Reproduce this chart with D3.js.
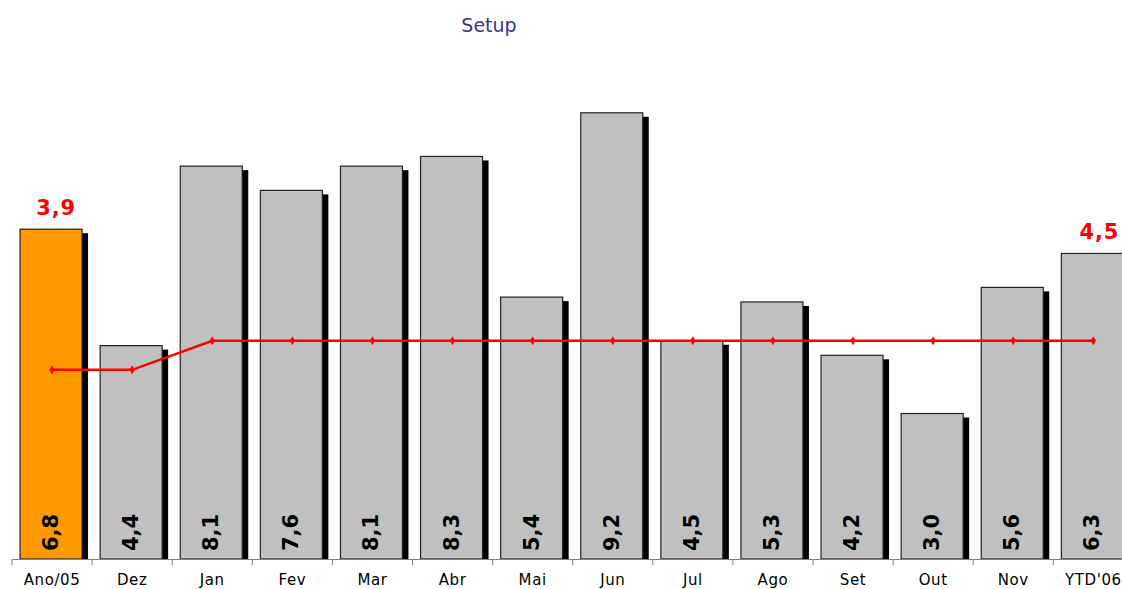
<!DOCTYPE html>
<html>
<head>
<meta charset="utf-8">
<script src="https://cdn.jsdelivr.net/npm/d3@7"></script>
<style>
  body { margin: 0; background: #fff; }
  svg { display: block; }
</style>
</head>
<body>
<div id="chart"></div>
<script>
// chart data
const categories = ["Ano/05", "Dez", "Jan", "Fev", "Mar", "Abr", "Mai", "Jun", "Jul", "Ago", "Set", "Out", "Nov", "YTD'06"]
const actual = [6.8, 4.4, 8.1, 7.6, 8.1, 8.3, 5.4, 9.2, 4.5, 5.3, 4.2, 3.0, 5.6, 6.3]
const target = [3.9, 3.9, 4.5, 4.5, 4.5, 4.5, 4.5, 4.5, 4.5, 4.5, 4.5, 4.5, 4.5, 4.5]

const W = 1122, H = 589
const font = "Verdana, 'DejaVu Sans', sans-serif"
const fmt = v => d3.format(".1f")(v).replace(".", ",")

let svg = d3.select("#chart").append("svg")
    .attr("width", W).attr("height", H)

// x scale runs a little past the right edge, like the original
let scX = d3.scaleBand().domain(categories).range([12, 12 + 80.1 * categories.length])
let scY = d3.scaleLinear().domain([0, 10]).range([559, 74])

svg.append("text")
    .attr("x", 489).attr("y", 32)
    .attr("text-anchor", "middle")
    .attr("font-family", font)
    .attr("font-size", 19)
    .attr("fill", "#333399")
    .text("Setup")

let bw = 62
let cx = d => scX(d) + scX.bandwidth() / 2

// shadows
svg.append("g").selectAll("rect")
    .data(actual)
    .enter().append("rect")
    .attr("x", (d, i) => cx(categories[i]) - bw / 2 - 1 + 6)
    .attr("y", d => scY(d) + 4)
    .attr("width", bw)
    .attr("height", d => scY(0) - scY(d) - 4)
    .attr("fill", "#000")

// bars
svg.append("g").selectAll("rect")
    .data(actual)
    .enter().append("rect")
    .attr("x", (d, i) => cx(categories[i]) - bw / 2 - 1)
    .attr("y", d => scY(d))
    .attr("width", bw)
    .attr("height", d => scY(0) - scY(d))
    .attr("fill", (d, i) => i === 0 ? "#ff9900" : "#c0c0c0")
    .attr("stroke", "#222")
    .attr("stroke-width", 1.2)

// value labels inside bars
svg.append("g").selectAll("text")
    .data(actual)
    .enter().append("text")
    .attr("transform", (d, i) => `translate(${cx(categories[i]) + 6}, 551) rotate(-90)`)
    .attr("font-family", font)
    .attr("font-weight", "bold")
    .attr("font-size", 21)
    .attr("fill", "#000")
    .text(d => fmt(d))

// x axis
let axis = d3.axisBottom(scX).tickSize(0).tickPadding(0)
let gx = svg.append("g").attr("transform", "translate(0, 559)").call(axis)
gx.select(".domain").attr("stroke", "#808080").attr("stroke-width", 1.2)
gx.selectAll("text")
    .attr("y", 26)
    .attr("dy", 0)
    .attr("font-family", font)
    .attr("font-size", 15)
    .attr("letter-spacing", 0.6)
    .attr("fill", "#000")
// tick marks between categories
gx.selectAll(".sep")
    .data(categories)
    .enter().append("line")
    .attr("class", "sep")
    .attr("x1", d => scX(d)).attr("x2", d => scX(d))
    .attr("y1", 0).attr("y2", 6)
    .attr("stroke", "#808080")

// target line
let makeLine = d3.line()
    .x((d, i) => cx(categories[i]))
    .y(d => scY(d))
svg.append("path")
    .attr("d", makeLine(target))
    .attr("fill", "none")
    .attr("stroke", "#ff0000")
    .attr("stroke-width", 2.5)

svg.append("g").selectAll("path")
    .data(target)
    .enter().append("path")
    .attr("d", d3.symbol(d3.symbolDiamond, 24))
    .attr("transform", (d, i) => `translate(${cx(categories[i])}, ${scY(d)})`)
    .attr("fill", "#ff0000")

// red target labels at both ends
let ends = [0, target.length - 1]
svg.append("g").selectAll("text")
    .data(ends)
    .enter().append("text")
    .attr("x", i => cx(categories[i]) + (i === 0 ? 4 : 6))
    .attr("y", i => scY(actual[i]) - 14)
    .attr("text-anchor", "middle")
    .attr("font-family", font)
    .attr("font-weight", "bold")
    .attr("font-size", 21)
    .attr("letter-spacing", 0.8)
    .attr("fill", "#ff0000")
    .text(i => fmt(target[i]))
</script>
</body>
</html>
